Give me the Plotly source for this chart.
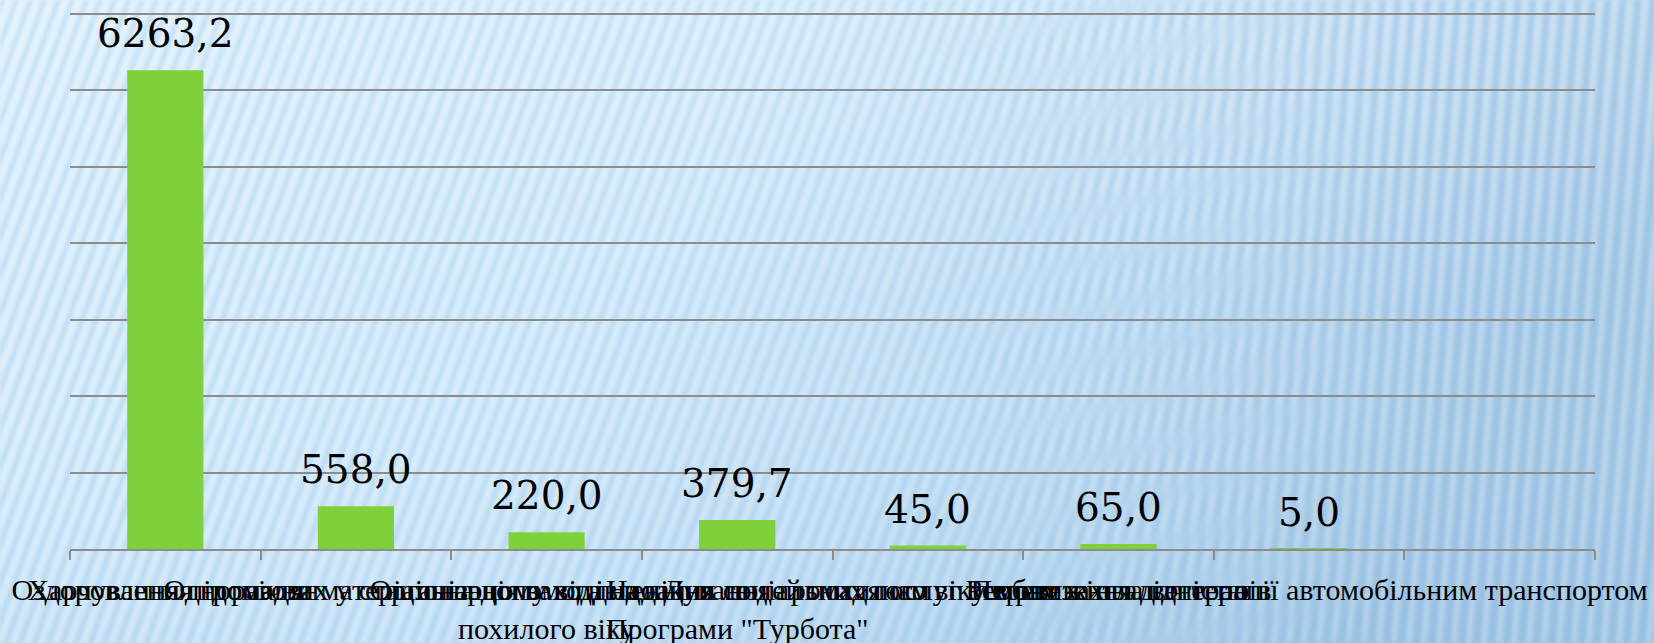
import base64
import plotly.graph_objects as go

categories = [
    "Оздоровлення громадян",
    "Харчування підопічних у стаціонарному відділенні",
    "Одноразова матеріальна допомога на лікування громадянам<br>похилого віку",
    "Організація заходів до Дня людей похилого віку в рамках<br>Програми \"Турбота\"",
    "Надання соціальних послуг особам з інвалідністю",
    "Ремонт житла ветеранів",
    "Перевезення для терапії автомобільним транспортом",
    " ",
]
values = [6263.2, 558.0, 220.0, 379.7, 45.0, 65.0, 5.0, None]
y_top = 7000
y_step = 1000

W, H = 1654, 643
ML, MR, MT, MB = 70, 59, 11, 94
PW, PH = W - ML - MR, H - MT - MB
y_range_max = y_top * PH / (H - MB - 14)

svg = f'''<svg xmlns="http://www.w3.org/2000/svg" width="{W}" height="{H}" viewBox="0 0 {W} {H}">
<defs>
<linearGradient id="g" x1="0" y1="0" x2="1" y2="0.25">
<stop offset="0" stop-color="#d8edfc"/>
<stop offset="0.45" stop-color="#d0e8fa"/>
<stop offset="0.75" stop-color="#bedbf2"/>
<stop offset="1" stop-color="#a9cbe7"/>
</linearGradient>
<linearGradient id="v" x1="0" y1="0" x2="0" y2="1">
<stop offset="0" stop-color="#ffffff" stop-opacity="0.18"/>
<stop offset="0.5" stop-color="#ffffff" stop-opacity="0"/>
<stop offset="1" stop-color="#5a9bd0" stop-opacity="0.10"/>
</linearGradient>
<linearGradient id="mL" x1="0" y1="0" x2="1" y2="0">
<stop offset="0" stop-color="#fff" stop-opacity="1"/>
<stop offset="0.6" stop-color="#fff" stop-opacity="0.8"/>
<stop offset="0.85" stop-color="#fff" stop-opacity="0"/>
</linearGradient>
<linearGradient id="mR" x1="0" y1="0" x2="1" y2="0">
<stop offset="0.55" stop-color="#fff" stop-opacity="0"/>
<stop offset="0.85" stop-color="#fff" stop-opacity="1"/>
</linearGradient>
<mask id="maskL"><rect width="{W}" height="{H}" fill="url(#mL)"/></mask>
<mask id="maskR"><rect width="{W}" height="{H}" fill="url(#mR)"/></mask>
<filter id="blur" x="0" y="0" width="1" height="1"><feGaussianBlur stdDeviation="1.6"/></filter>
<pattern id="p1" width="14" height="{H}" patternUnits="userSpaceOnUse" patternTransform="skewX(-20)">
<rect x="0" y="0" width="5" height="{H}" fill="#7fb6e0" fill-opacity="0.24"/>
<rect x="7" y="0" width="4" height="{H}" fill="#ffffff" fill-opacity="0.22"/>
</pattern>
<pattern id="p2" width="15" height="{H}" patternUnits="userSpaceOnUse" patternTransform="skewX(-5)">
<rect x="0" y="0" width="6" height="{H}" fill="#7fb2dc" fill-opacity="0.30"/>
<rect x="8" y="0" width="4" height="{H}" fill="#ffffff" fill-opacity="0.20"/>
</pattern>
</defs>
<rect width="{W}" height="{H}" fill="url(#g)"/>
<rect width="{W}" height="{H}" fill="url(#v)"/>
<g filter="url(#blur)">
<rect width="{W}" height="{H}" fill="url(#p1)" mask="url(#maskL)"/>
<rect width="{W}" height="{H}" fill="url(#p2)" mask="url(#maskR)"/>
</g>
</svg>'''
src = "data:image/svg+xml;base64," + base64.b64encode(svg.encode("utf-8")).decode("ascii")

fig = go.Figure()
fig.add_trace(go.Bar(
    x=categories, y=values, width=0.4,
    marker=dict(color="#7fd13b", line=dict(width=0)),
    hoverinfo="skip",
))

for c, v in zip(categories, values):
    if v is None:
        continue
    fig.add_annotation(
        x=c, y=v, text=f"{v:.1f}".replace(".", ","),
        showarrow=False, yanchor="bottom", yshift=12,
        font=dict(family="DejaVu Serif", size=39, color="#000000"),
    )

fig.update_layout(
    template="none",
    width=W, height=H,
    margin=dict(l=ML, r=MR, t=MT, b=MB, pad=0),
    paper_bgcolor="#cfe7f9",
    plot_bgcolor="rgba(0,0,0,0)",
    showlegend=False,
    images=[dict(
        source=src, xref="paper", yref="paper",
        x=-ML / PW, y=1 + MT / PH, sizex=W / PW, sizey=H / PH,
        xanchor="left", yanchor="top", sizing="stretch", layer="below",
    )],
)
fig.update_xaxes(
    type="category", tickangle=0, automargin=False,
    range=[-0.5, len(categories) - 0.5],
    ticks="outside", tickson="boundaries", ticklen=9, tickwidth=1.5, tickcolor="#8c8c8c",
    showline=True, linecolor="#8c8c8c", linewidth=2,
    showgrid=False, zeroline=False,
    tickfont=dict(family="Liberation Serif", size=30, color="#000000"),
    ticklabelstandoff=13,
)
fig.update_yaxes(
    range=[0, y_range_max], dtick=y_step, tick0=0, showticklabels=False, automargin=False,
    showgrid=True, gridcolor="#8c8c8c", gridwidth=2,
    zeroline=False, showline=False, ticks="",
)

fig.write_html(
    "out.html",
    config={"displayModeBar": False},
    post_script="document.body.style.margin='0';document.body.style.overflow='hidden';",
)
